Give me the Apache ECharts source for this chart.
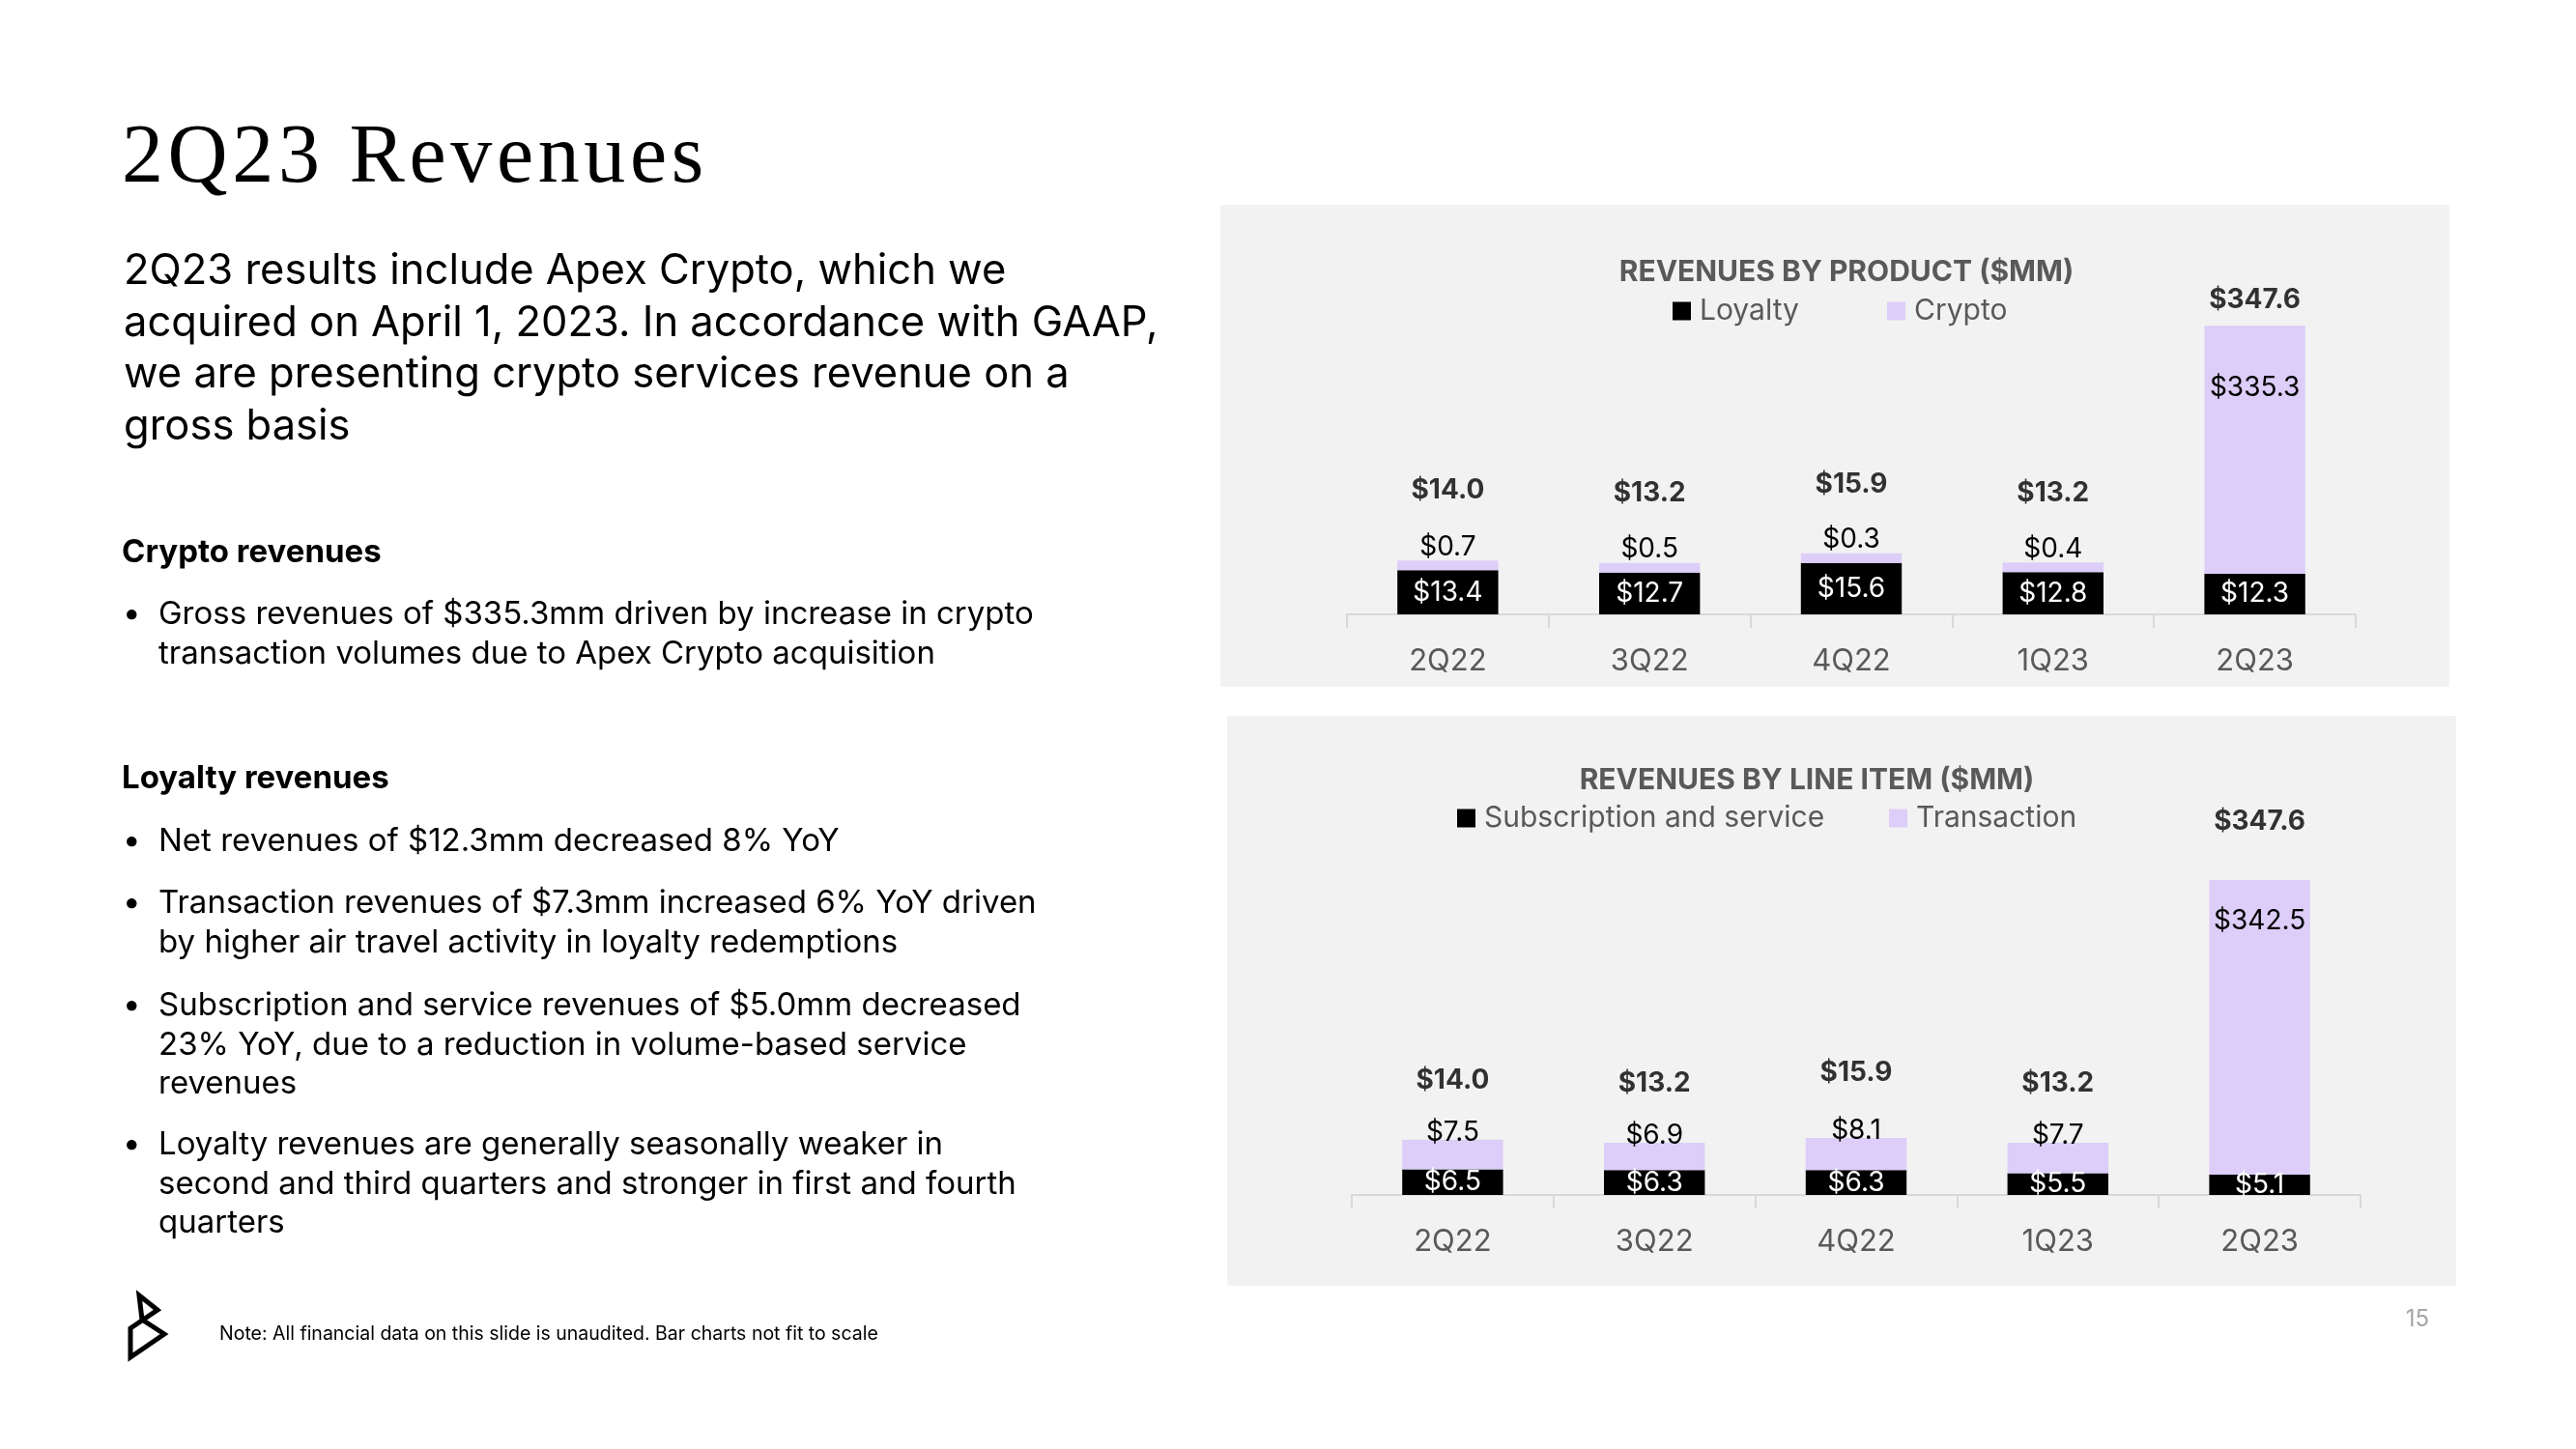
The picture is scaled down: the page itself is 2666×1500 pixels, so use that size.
<!DOCTYPE html>
<html><head><meta charset="utf-8">
<script src="https://cdn.jsdelivr.net/npm/echarts@6/dist/echarts.min.js"></script>
<style>
html,body{margin:0;padding:0;background:#fff;width:2666px;height:1500px;overflow:hidden;}
body{position:relative;font-family:Inter,'Noto Sans',sans-serif;color:#000;}
.abs{position:absolute;white-space:nowrap;}
.panel{position:absolute;background:#f2f2f2;z-index:0;}
#chart{position:absolute;left:0;top:0;width:2666px;height:1500px;z-index:1;}
.txt{z-index:2;}
.ct{transform:translate(-50%,-50%);font-size:30px;font-weight:700;color:#595959;line-height:1;}
.bul{position:absolute;z-index:2;font-size:33px;line-height:40.5px;white-space:nowrap;}
.bul .dot{position:absolute;left:0;top:0;}
.bul .tx{position:absolute;left:37px;top:0;}
.hd{position:absolute;z-index:2;font-size:33px;line-height:36px;font-weight:700;white-space:nowrap;}
</style></head>
<body>
<div class="panel" style="left:1263px;top:212px;width:1272px;height:499px"></div>
<div class="panel" style="left:1270px;top:741px;width:1272px;height:590px"></div>

<div class="abs txt" style="left:126px;top:116px;font-family:'Liberation Serif',serif;font-size:86px;line-height:1;letter-spacing:4.6px">2Q23 Revenues</div>
<div class="abs txt" style="left:128px;top:252px;font-size:43.5px;line-height:53.5px">2Q23 results include Apex Crypto, which we<br>acquired on April 1, 2023. In accordance with GAAP,<br>we are presenting crypto services revenue on a<br>gross basis</div>

<div class="hd" style="left:126px;top:552px">Crypto revenues</div>
<div class="bul" style="left:127px;top:614px"><span class="dot">•</span><span class="tx">Gross revenues of $335.3mm driven by increase in crypto<br>transaction volumes due to Apex Crypto acquisition</span></div>

<div class="hd" style="left:126px;top:786px">Loyalty revenues</div>
<div class="bul" style="left:127px;top:849px"><span class="dot">•</span><span class="tx">Net revenues of $12.3mm decreased 8% YoY</span></div>
<div class="bul" style="left:127px;top:913px"><span class="dot">•</span><span class="tx">Transaction revenues of $7.3mm increased 6% YoY driven<br>by higher air travel activity in loyalty redemptions</span></div>
<div class="bul" style="left:127px;top:1019px"><span class="dot">•</span><span class="tx">Subscription and service revenues of $5.0mm decreased<br>23% YoY, due to a reduction in volume-based service<br>revenues</span></div>
<div class="bul" style="left:127px;top:1163px"><span class="dot">•</span><span class="tx">Loyalty revenues are generally seasonally weaker in<br>second and third quarters and stronger in first and fourth<br>quarters</span></div>

<svg class="abs txt" style="left:120px;top:1330px" width="70" height="90" viewBox="0 0 70 90">
  <polygon points="24,11 43,26 15,45 15,75 50,51 27,36" fill="none" stroke="#000" stroke-width="5" stroke-linejoin="miter"/>
</svg>
<div class="abs txt" style="left:227px;top:1369px;font-size:19.5px;line-height:22px">Note: All financial data on this slide is unaudited. Bar charts not fit to scale</div>
<div class="abs txt" style="left:2502px;top:1365px;transform:translate(-50%,-50%);font-size:24px;color:#a6a6a6;line-height:1">15</div>

<div class="abs txt ct" style="left:1911px;top:280px">REVENUES BY PRODUCT ($MM)</div>
<div class="abs txt ct" style="left:1870px;top:806px">REVENUES BY LINE ITEM ($MM)</div>

<div id="chart"></div>
<script>
const categories = ['2Q22', '3Q22', '4Q22', '1Q23', '2Q23'];
const loyalty = [13.4, 12.7, 15.6, 12.8, 12.3];
const crypto = [0.7, 0.5, 0.3, 0.4, 335.3];
const productTotals = [14.0, 13.2, 15.9, 13.2, 347.6];
const subscription = [6.5, 6.3, 6.3, 5.5, 5.1];
const transaction = [7.5, 6.9, 8.1, 7.7, 342.5];
const lineItemTotals = [14.0, 13.2, 15.9, 13.2, 347.6];

const FONT = 'Inter, "Noto Sans", sans-serif';
const BLACK = '#000000', LAV = '#dccef8', GREY = '#595959', AXIS = '#d9d9d9';
const money = v => '$' + Number(v).toFixed(1);
const fmt = p => money(p.value);

function xAxisCfg(i) {
  return {
    type: 'category', gridIndex: i, data: categories,
    axisLine: {lineStyle: {color: AXIS, width: 2}},
    axisTick: {show: true, length: 14, lineStyle: {color: AXIS, width: 2}},
    axisLabel: {color: GREY, fontSize: 31, margin: 33, fontFamily: FONT}
  };
}
function yAxisCfg(i, max, brk) {
  return {
    type: 'value', gridIndex: i, min: 0, max: max, show: false,
    splitLine: {show: false},
    breaks: [brk],
    breakArea: {show: false}
  };
}
const baseLabel = {show: true, fontSize: 28, fontFamily: FONT};

function stackPair(axis, names, low, high, highBig, highSmall) {
  return [
    {
      name: names[0], type: 'bar', xAxisIndex: axis, yAxisIndex: axis, stack: 's' + axis,
      data: low, barWidth: '50%', itemStyle: {color: BLACK},
      label: Object.assign({}, baseLabel, {position: 'inside', color: '#ffffff', formatter: fmt})
    },
    {
      name: names[1], type: 'bar', xAxisIndex: axis, yAxisIndex: axis, stack: 's' + axis,
      data: high.map(v => v > 100 ? {value: v, label: highBig} : v),
      barWidth: '50%', barMinHeight: 10, itemStyle: {color: LAV},
      label: Object.assign({}, baseLabel, highSmall, {color: '#000000', formatter: fmt})
    }
  ];
}
function totals(axis, vals, distBig, distSmall) {
  return {
    name: 'total' + axis, type: 'scatter', xAxisIndex: axis, yAxisIndex: axis,
    data: vals.map(v => ({value: v, label: {distance: v > 100 ? distBig : distSmall}})),
    symbolSize: 1, itemStyle: {color: 'transparent'}, silent: true, z: 5,
    label: Object.assign({}, baseLabel, {position: 'top', fontWeight: 'bold', color: '#000000', formatter: fmt})
  };
}
function legendItem(name, left, top) {
  return {
    data: [name], left: left, top: top, padding: 0, icon: 'rect',
    itemWidth: 19, itemHeight: 19, selectedMode: false,
    textStyle: {color: GREY, fontSize: 30, fontFamily: FONT, padding: [0, 0, 0, 4]}
  };
}

const chart = echarts.init(document.getElementById('chart'), null, {renderer: 'canvas'});
chart.setOption({
  animation: false,
  backgroundColor: 'transparent',
  textStyle: {fontFamily: FONT},
  legend: [
    legendItem('Loyalty', 1731, 307),
    legendItem('Crypto', 1953, 307),
    legendItem('Subscription and service', 1508, 832),
    legendItem('Transaction', 1955, 832)
  ],
  grid: [
    {left: 1394, width: 1044, top: 329, height: 307},
    {left: 1399, width: 1044, top: 893, height: 344}
  ],
  xAxis: [xAxisCfg(0), xAxisCfg(1)],
  yAxis: [
    yAxisCfg(0, 350, {start: 20, end: 330, gap: 50}),
    yAxisCfg(1, 352, {start: 20, end: 340, gap: 52})
  ],
  series: [].concat(
    stackPair(0, ['Loyalty', 'Crypto'], loyalty, crypto,
      {position: 'insideTop', distance: 50}, {position: 'top', distance: 0}),
    [totals(0, productTotals, 12, 66)],
    stackPair(1, ['Subscription and service', 'Transaction'], subscription, transaction,
      {position: 'insideTop', distance: 29}, {position: 'top', distance: -7}),
    [totals(1, lineItemTotals, 46, 47)]
  )
});
</script>
</body></html>
